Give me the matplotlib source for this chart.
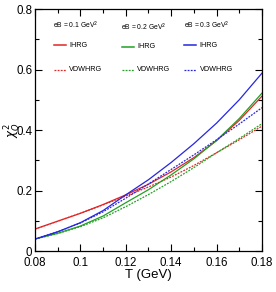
import numpy as np
import matplotlib
matplotlib.use("Agg")
import matplotlib.pyplot as plt
from matplotlib.ticker import MultipleLocator

plt.rcParams['font.family'] = ['Liberation Sans', 'DejaVu Sans']
plt.rcParams['mathtext.fontset'] = 'dejavusans'

RED = "#e02525"
GREEN = "#22a022"
BLUE = "#2626e0"

T = [0.08, 0.09, 0.10, 0.11, 0.12, 0.13, 0.14, 0.15, 0.16, 0.17, 0.18]

ihrg_01 = [0.073, 0.099, 0.125, 0.154, 0.186, 0.221, 0.262, 0.309, 0.365, 0.432, 0.512]
vdw_01  = [0.073, 0.099, 0.125, 0.153, 0.182, 0.212, 0.245, 0.283, 0.325, 0.368, 0.413]
ihrg_02 = [0.040, 0.059, 0.083, 0.116, 0.160, 0.203, 0.252, 0.305, 0.366, 0.438, 0.522]
vdw_02  = [0.040, 0.058, 0.081, 0.110, 0.147, 0.187, 0.230, 0.276, 0.325, 0.372, 0.421]
ihrg_03 = [0.040, 0.064, 0.094, 0.134, 0.186, 0.236, 0.293, 0.355, 0.423, 0.500, 0.588]
vdw_03  = [0.040, 0.064, 0.093, 0.130, 0.175, 0.222, 0.270, 0.318, 0.368, 0.420, 0.474]

fig = plt.figure(figsize=(2.76, 2.92), dpi=100)
ax = fig.add_axes([0.127, 0.140, 0.822, 0.829])

dot = (0, (1.5, 1))
ax.plot(T, ihrg_01, color=RED, lw=0.9)
ax.plot(T, vdw_01, color=RED, lw=0.9, ls=dot)
ax.plot(T, ihrg_02, color=GREEN, lw=0.9)
ax.plot(T, vdw_02, color=GREEN, lw=0.9, ls=dot)
ax.plot(T, ihrg_03, color=BLUE, lw=0.9)
ax.plot(T, vdw_03, color=BLUE, lw=0.9, ls=dot)

ax.set_xlim(0.08, 0.18)
ax.set_ylim(0, 0.8)
ax.xaxis.set_minor_locator(MultipleLocator(0.01))
ax.yaxis.set_minor_locator(MultipleLocator(0.1))
ax.set_xticks([0.08, 0.10, 0.12, 0.14, 0.16, 0.18])
ax.set_xticklabels(["0.08", "0.1", "0.12", "0.14", "0.16", "0.18"])
ax.set_yticks([0, 0.2, 0.4, 0.6, 0.8])
ax.set_yticklabels(["0", "0.2", "0.4", "0.6", "0.8"])
ax.tick_params(which='both', direction='in', top=True, right=True, labelsize=8.3)
ax.tick_params(axis='x', pad=4)
ax.tick_params(axis='y', pad=2)
ax.tick_params(which='major', length=5, width=0.8)
ax.tick_params(which='minor', length=3, width=0.8)
for s in ax.spines.values():
    s.set_linewidth(0.9)

ax.set_xlabel("T (GeV)", fontsize=9.5, labelpad=0)
fig.text(0.047, 0.555, r"$\chi_Q^2$", fontsize=8.5, rotation=90,
         ha='center', va='center')

# legend drawn as three columns of text + line samples
cols = [(0.060, RED, "eB = 0.1 GeV$^2$", 0.932, 0.85),
        (0.360, GREEN, "eB = 0.2 GeV$^2$", 0.925, 0.845),
        (0.635, BLUE, "eB = 0.3 GeV$^2$", 0.932, 0.85)]
for x0, c, lab, ytxt, yl in cols:
    ax.text(x0 + 0.02, ytxt, lab, transform=ax.transAxes, fontsize=4.9, va='center')
    ax.plot([x0 + 0.022, x0 + 0.075], [yl, yl], transform=ax.transAxes,
            color=c, lw=1.1)
    ax.text(x0 + 0.09, yl, "IHRG", transform=ax.transAxes, fontsize=5.2, va='center')
    ax.plot([x0 + 0.022, x0 + 0.075], [0.75, 0.75], transform=ax.transAxes,
            color=c, lw=0.9, ls=dot)
    ax.text(x0 + 0.09, 0.75, "VDWHRG", transform=ax.transAxes, fontsize=5.2, va='center')

fig.savefig("out.png", dpi=100)
